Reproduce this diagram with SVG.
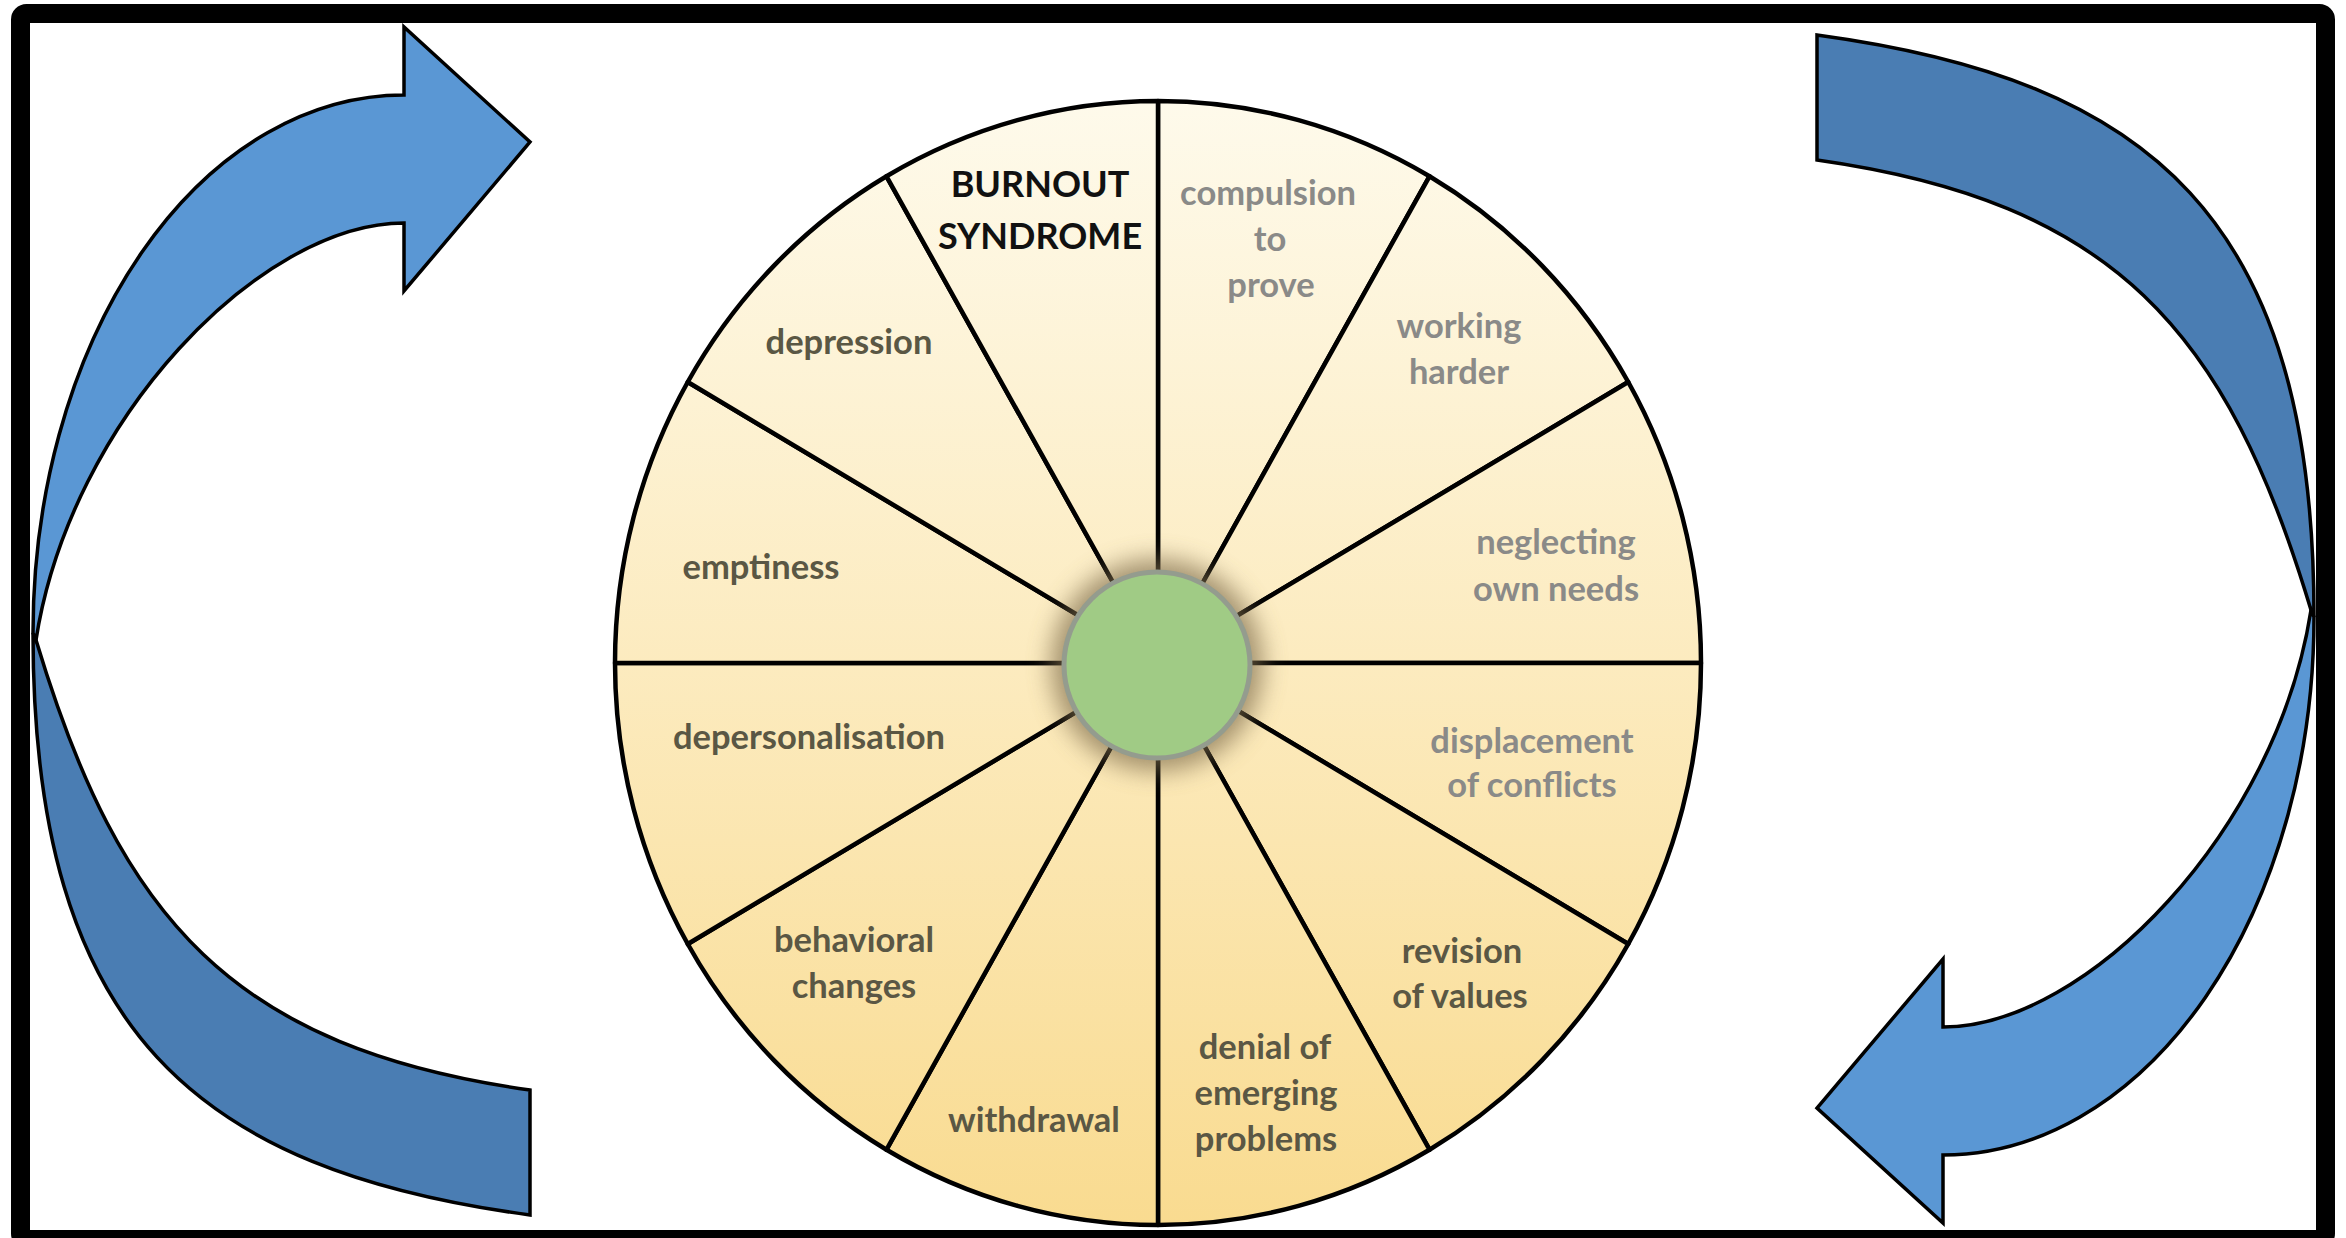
<svg xmlns="http://www.w3.org/2000/svg" width="2346" height="1238" viewBox="0 0 2346 1238">
  <defs>
    <linearGradient id="wheelFill" gradientUnits="userSpaceOnUse" x1="0" y1="102" x2="0" y2="1224">
      <stop offset="0" stop-color="#FEFAEB"/>
      <stop offset="0.5" stop-color="#FCEBBF"/>
      <stop offset="1" stop-color="#F9DB90"/>
    </linearGradient>
    <filter id="hubGlow" x="-50%" y="-50%" width="200%" height="200%">
      <feGaussianBlur stdDeviation="12"/>
    </filter>
    <style>
      .frame { fill: none; stroke: #000; stroke-width: 19; }
      .band-front { fill: #5A97D4; stroke: #000; stroke-width: 3.5; stroke-linejoin: miter; }
      .band-back { fill: #4A7DB3; stroke: #000; stroke-width: 3.5; stroke-linejoin: miter; }
      .wedge { fill: url(#wheelFill); stroke: #000; stroke-width: 4.5; stroke-linejoin: round; }
      .lbl { font-family: Lato, "Liberation Sans", sans-serif; font-weight: 700; font-size: 34.5px; text-anchor: middle; }
      .dark { fill: #5A5744; }
      .grey { fill: #8A8A88; }
      .title { fill: #111; font-size: 36px; }
    </style>
  </defs>

  <rect width="2346" height="1238" fill="#fff"/>

  <!-- outer frame -->
  <rect id="frame" class="frame" x="20.5" y="13.5" width="2305" height="1226" rx="6"/>

  <!-- cycle arrows -->
  <g id="connectors">
    <g id="arrow-left">
      <path class="band-back" d="M33,633 C33,1033 198,1170 530,1215 L530,1090 C233,1048 120,920 36,640 Z"/>
      <path class="band-front" d="M404,95 A371,538 0 0 0 33,633 L36,640 C70,420 260,223 404,223 L404,291 L530,142 L404,27 Z"/>
    </g>
    <g id="arrow-right" transform="rotate(180 1173.5 625)">
      <path class="band-back" d="M33,633 C33,1033 198,1170 530,1215 L530,1090 C233,1048 120,920 36,640 Z"/>
      <path class="band-front" d="M404,95 A371,538 0 0 0 33,633 L36,640 C70,420 260,223 404,223 L404,291 L530,142 L404,27 Z"/>
    </g>
  </g>

  <!-- wheel segments, clockwise from the top -->
  <g id="seg-compulsion">
    <path class="wedge" d="M1158,663 L1158,101 A543,562 0 0 1 1429.5,176.3 Z"/>
    <text class="lbl grey" x="1268" y="205">compulsion</text>
    <text class="lbl grey" x="1270" y="251">to</text>
    <text class="lbl grey" x="1271" y="297">prove</text>
  </g>
  <g id="seg-working">
    <path class="wedge" d="M1158,663 L1429.5,176.3 A543,562 0 0 1 1628.25,382 Z"/>
    <text class="lbl grey" x="1459" y="338">working</text>
    <text class="lbl grey" x="1459" y="384">harder</text>
  </g>
  <g id="seg-neglecting">
    <path class="wedge" d="M1158,663 L1628.25,382 A543,562 0 0 1 1701,663 Z"/>
    <text class="lbl grey" x="1556" y="554">neglecting</text>
    <text class="lbl grey" x="1556" y="601">own needs</text>
  </g>
  <g id="seg-displacement">
    <path class="wedge" d="M1158,663 L1701,663 A543,562 0 0 1 1628.25,944 Z"/>
    <text class="lbl grey" x="1532" y="753">displacement</text>
    <text class="lbl grey" x="1532" y="797">of conflicts</text>
  </g>
  <g id="seg-revision">
    <path class="wedge" d="M1158,663 L1628.25,944 A543,562 0 0 1 1429.5,1149.7 Z"/>
    <text class="lbl dark" x="1462" y="963">revision</text>
    <text class="lbl dark" x="1460" y="1008">of values</text>
  </g>
  <g id="seg-denial">
    <path class="wedge" d="M1158,663 L1429.5,1149.7 A543,562 0 0 1 1158,1225 Z"/>
    <text class="lbl dark" x="1265" y="1059">denial of</text>
    <text class="lbl dark" x="1266" y="1105">emerging</text>
    <text class="lbl dark" x="1266" y="1151">problems</text>
  </g>
  <g id="seg-withdrawal">
    <path class="wedge" d="M1158,663 L1158,1225 A543,562 0 0 1 886.5,1149.7 Z"/>
    <text class="lbl dark" x="1034" y="1132">withdrawal</text>
  </g>
  <g id="seg-behavioral">
    <path class="wedge" d="M1158,663 L886.5,1149.7 A543,562 0 0 1 687.75,944 Z"/>
    <text class="lbl dark" x="854" y="952">behavioral</text>
    <text class="lbl dark" x="854" y="998">changes</text>
  </g>
  <g id="seg-depersonalisation">
    <path class="wedge" d="M1158,663 L687.75,944 A543,562 0 0 1 615,663 Z"/>
    <text class="lbl dark" x="809" y="749">depersonalisation</text>
  </g>
  <g id="seg-emptiness">
    <path class="wedge" d="M1158,663 L615,663 A543,562 0 0 1 687.75,382 Z"/>
    <text class="lbl dark" x="761" y="579">emptiness</text>
  </g>
  <g id="seg-depression">
    <path class="wedge" d="M1158,663 L687.75,382 A543,562 0 0 1 886.5,176.3 Z"/>
    <text class="lbl dark" x="849" y="354">depression</text>
  </g>
  <g id="seg-burnout">
    <path class="wedge" d="M1158,663 L886.5,176.3 A543,562 0 0 1 1158,101 Z"/>
    <text class="lbl title" x="1040" y="197">BURNOUT</text>
    <text class="lbl title" x="1040" y="249">SYNDROME</text>
  </g>

  <!-- hub -->
  <g id="hub">
    <circle cx="1157" cy="665" r="106" fill="#7E6C4C" opacity="0.7" filter="url(#hubGlow)"/>
    <circle cx="1157" cy="665" r="93" fill="#A0CB85" stroke="#949C8E" stroke-width="5"/>
  </g>
</svg>
